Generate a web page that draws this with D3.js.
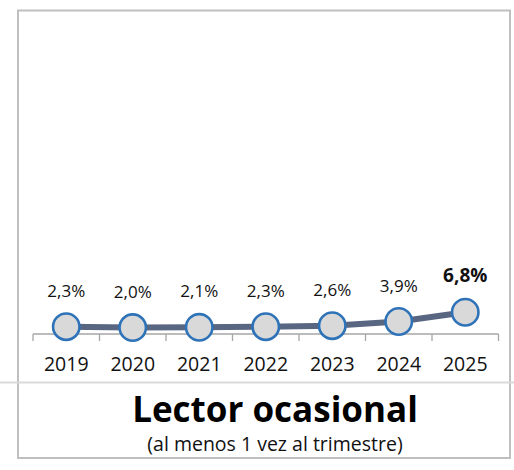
<!DOCTYPE html>
<html><head><meta charset="utf-8">
<script src="https://cdn.jsdelivr.net/npm/d3@7"></script>
<style>
html,body{margin:0;padding:0;background:#fff;}
svg{display:block;font-family:"Open Sans","Noto Sans",sans-serif;}
</style></head>
<body>
<svg id="c" width="514" height="470"></svg>
<script>
const years = ["2019","2020","2021","2022","2023","2024","2025"];
const values = [2.3, 2.0, 2.1, 2.3, 2.6, 3.9, 6.8];
const labels = ["2,3%","2,0%","2,1%","2,3%","2,6%","3,9%","6,8%"];
const title = "Lector ocasional";
const subtitle = "(al menos 1 vez al trimestre)";

const svg = d3.select("#c");
// outer frame
svg.append("rect").attr("x",18).attr("y",10.5).attr("width",492).attr("height",447.5)
  .attr("fill","none").attr("stroke","#bfbfbf").attr("stroke-width",2);
// separator line
svg.append("line").attr("x1",0).attr("x2",514).attr("y1",382.5).attr("y2",382.5)
  .attr("stroke","#d9d9d9").attr("stroke-width",2);

const x = d3.scaleBand().domain(years).range([33,498.5]);
const y = d3.scaleLinear().domain([0,100]).range([334,14]);

// axis line + ticks between categories
const g = svg.append("g");
g.append("line").attr("x1",x.range()[0]).attr("x2",x.range()[1]).attr("y1",y(0)).attr("y2",y(0))
  .attr("stroke","#a6a6a6").attr("stroke-width",1.3);
const bounds = years.map(d=>x(d)).concat([x(years[years.length-1])+x.bandwidth()]);
g.selectAll("line.tick").data(bounds).join("line").attr("class","tick")
  .attr("x1",d=>d).attr("x2",d=>d).attr("y1",y(0)).attr("y2",y(0)+7)
  .attr("stroke","#a6a6a6").attr("stroke-width",1.3);

// year labels via axis
const ax = svg.append("g").attr("transform",`translate(0,${y(0)})`)
  .call(d3.axisBottom(x).tickSize(0).tickPadding(0));
ax.select(".domain").remove();
ax.selectAll("text").attr("font-size",19.5).attr("fill","#111").attr("dy",null).attr("y",37)
  .attr("font-family","'Open Sans','Noto Sans',sans-serif");

// line
const cx = d=>x(d)+x.bandwidth()/2;
const line = d3.line().x((d,i)=>cx(years[i])).y(d=>y(d));
svg.append("path").datum(values).attr("d",line).attr("fill","none")
  .attr("stroke","#596682").attr("stroke-width",6).attr("stroke-linejoin","round");

// markers
svg.selectAll("circle.m").data(values).join("circle").attr("class","m")
  .attr("cx",(d,i)=>cx(years[i])).attr("cy",d=>y(d)).attr("r",13.2)
  .attr("fill","#d9d9d9").attr("stroke","#2e72b8").attr("stroke-width",2.6);

// value labels
svg.selectAll("text.v").data(values).join("text").attr("class","v")
  .attr("x",(d,i)=>cx(years[i])).attr("y",d=>y(d)-30)
  .attr("text-anchor","middle")
  .attr("font-size",(d,i)=>i===values.length-1?19:17)
  .attr("font-weight",(d,i)=>i===values.length-1?"bold":"normal")
  .attr("fill","#111")
  .text((d,i)=>labels[i]);

// titles
svg.append("text").attr("x",275).attr("y",421.5).attr("text-anchor","middle")
  .attr("font-size",35).attr("font-weight","bold").attr("fill","#000").text(title);
svg.append("text").attr("x",275).attr("y",451).attr("text-anchor","middle")
  .attr("font-size",19.5).attr("fill","#111").text(subtitle);
</script>
</body></html>
